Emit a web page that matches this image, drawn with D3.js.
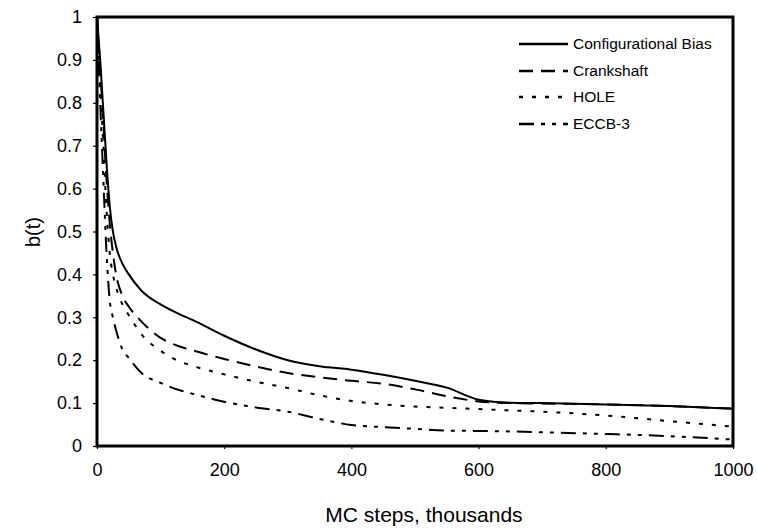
<!DOCTYPE html>
<html>
<head>
<meta charset="utf-8">
<script src="https://cdn.jsdelivr.net/npm/d3@7"></script>
<style>
  html, body { margin: 0; padding: 0; background: #fff; }
  svg { display: block; font-family: "Liberation Sans", Arial, sans-serif; }
</style>
</head>
<body>
<svg id="chart" width="757" height="528"></svg>
<script>
// Monte Carlo steps (thousands) at which b(t) was sampled
const steps = [0, 5, 10, 15, 20, 25, 30, 40, 50, 70, 100, 130, 150, 200, 250, 300, 350, 400, 450, 500, 550, 600, 650, 700, 800, 900, 1000];

// b(t) for each move set
const configBias = [1, 0.90, 0.78, 0.66, 0.56, 0.50, 0.465, 0.425, 0.40, 0.362, 0.330, 0.307, 0.294, 0.257, 0.225, 0.200, 0.186, 0.178, 0.166, 0.152, 0.136, 0.108, 0.101, 0.100, 0.097, 0.093, 0.087];
const crankshaft = [1, 0.88, 0.75, 0.62, 0.52, 0.45, 0.40, 0.35, 0.325, 0.29, 0.252, 0.232, 0.223, 0.203, 0.185, 0.170, 0.160, 0.152, 0.145, 0.132, 0.116, 0.104, 0.100, 0.099, 0.097, 0.093, 0.087];
const hole = [1, 0.85, 0.70, 0.55, 0.45, 0.40, 0.37, 0.33, 0.305, 0.26, 0.222, 0.197, 0.187, 0.167, 0.150, 0.135, 0.118, 0.105, 0.097, 0.092, 0.089, 0.086, 0.083, 0.080, 0.071, 0.058, 0.045];
const eccb3 = [1, 0.80, 0.62, 0.45, 0.34, 0.30, 0.27, 0.225, 0.205, 0.17, 0.147, 0.130, 0.122, 0.103, 0.090, 0.080, 0.063, 0.049, 0.044, 0.040, 0.036, 0.035, 0.034, 0.032, 0.028, 0.023, 0.015];

const seriesNames = ["Configurational Bias", "Crankshaft", "HOLE", "ECCB-3"];
const seriesValues = [configBias, crankshaft, hole, eccb3];
const dashes = [null, "14,8", "4,9", "15,7,4,7,4,7"];

const xTicks = [0, 200, 400, 600, 800, 1000];
const yTicks = [0, 0.1, 0.2, 0.3, 0.4, 0.5, 0.6, 0.7, 0.8, 0.9, 1];

const svg = d3.select("#chart");
const plot = { left: 97, right: 733, top: 17, bottom: 446 };

const x = d3.scaleLinear().domain([0, 1000]).range([plot.left, plot.right]);
const y = d3.scaleLinear().domain([0, 1]).range([plot.bottom, plot.top]);

// Axes with short outward ticks
const yAxis = svg.append("g")
  .attr("transform", `translate(${plot.left},0)`)
  .call(d3.axisLeft(y).tickValues(yTicks).tickSize(4).tickPadding(11)
    .tickFormat(d => d === 0 || d === 1 ? String(d) : d3.format(".1f")(d)));
const xAxis = svg.append("g")
  .attr("transform", `translate(0,${plot.bottom})`)
  .call(d3.axisBottom(x).tickValues(xTicks).tickSize(3).tickPadding(14).tickFormat(d3.format("d")));

[yAxis, xAxis].forEach(g => {
  g.select(".domain").remove();
  g.selectAll("line").attr("stroke", "#000").attr("stroke-width", 1.2);
  g.selectAll("text").attr("fill", "#000").style("font-size", "18px")
    .style("font-family", "'Liberation Sans', Arial, sans-serif");
});

// Series lines
const line = d3.line()
  .x((d, i) => x(steps[i]))
  .y(d => y(d))
  .curve(d3.curveMonotoneX);

seriesValues.forEach((vals, k) => {
  svg.append("path")
    .datum(vals)
    .attr("d", line)
    .attr("fill", "none")
    .attr("stroke", "#000")
    .attr("stroke-width", 2)
    .attr("stroke-dasharray", dashes[k]);
});

// Plot frame
svg.append("rect")
  .attr("x", plot.left).attr("y", plot.top)
  .attr("width", plot.right - plot.left).attr("height", plot.bottom - plot.top)
  .attr("fill", "none").attr("stroke", "#000").attr("stroke-width", 3);

// Legend
const legendRows = [44, 71, 97, 124];
seriesNames.forEach((name, k) => {
  svg.append("line")
    .attr("x1", 519).attr("x2", 568)
    .attr("y1", legendRows[k]).attr("y2", legendRows[k])
    .attr("stroke", "#000").attr("stroke-width", 2.5)
    .attr("stroke-dasharray", dashes[k]);
  svg.append("text")
    .attr("x", 573).attr("y", legendRows[k] + 5)
    .style("font-size", "15.5px")
    .text(name);
});

// Axis titles
svg.append("text")
  .attr("x", 424).attr("y", 522)
  .attr("text-anchor", "middle")
  .style("font-size", "21px")
  .text("MC steps, thousands");

svg.append("text")
  .attr("transform", `translate(${40},${232}) rotate(-90)`)
  .attr("text-anchor", "middle")
  .style("font-size", "20px")
  .text("b(t)");
</script>
</body>
</html>
